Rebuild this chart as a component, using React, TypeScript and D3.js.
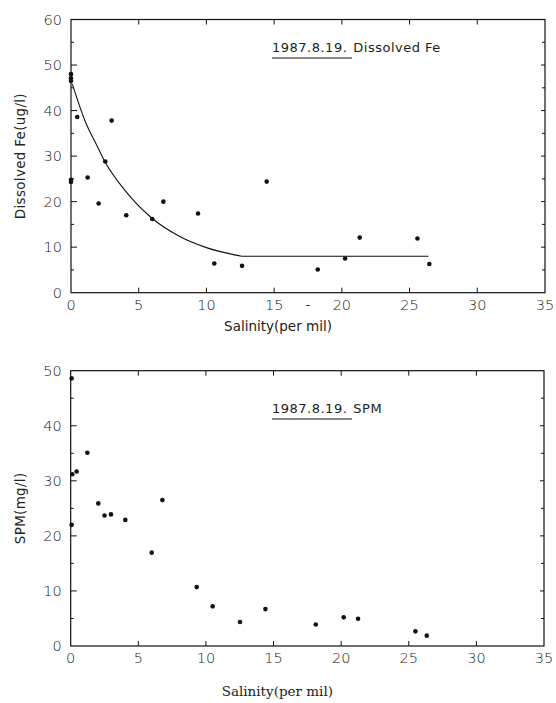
import React from 'react';
import * as d3 from 'd3';

// Dissolved Fe panel (1987.8.19)
const salinityFe = [0, 0, 0, 0, 0, 0.46, 1.23, 2.04, 2.53, 3.0, 4.08, 6.0, 6.82, 9.38, 10.58, 12.63, 14.45, 18.22, 20.24, 21.32, 25.58, 26.46];
const dissolvedFe = [48.0, 47.1, 46.5, 24.8, 24.3, 38.6, 25.3, 19.6, 28.8, 37.8, 17.0, 16.2, 20.0, 17.4, 6.4, 5.9, 24.4, 5.1, 7.5, 12.1, 11.9, 6.3];
// fitted curve (decay part) and flat part
const curveSal = [0.1, 1, 2, 2.5, 4, 6, 8, 10, 12.6];
const curveFe = [45.8, 38.0, 31.8, 28.8, 22.4, 16.3, 12.4, 9.9, 8.0];
const flatSal = [12.6, 26.4];
const flatFe = [8.0, 8.0];

// SPM panel
const salinitySpm = [0.07, 0.12, 0.44, 1.23, 0.07, 2.04, 2.5, 2.98, 4.04, 5.99, 6.78, 9.32, 10.5, 12.52, 14.4, 18.12, 20.19, 21.25, 25.49, 26.33];
const spm = [48.6, 31.2, 31.7, 35.1, 22.0, 25.9, 23.7, 23.9, 22.9, 16.95, 26.5, 10.7, 7.2, 4.36, 6.7, 3.9, 5.2, 4.96, 2.66, 1.88];

const xTicks = [0, 5, 10, 15, 20, 25, 30, 35];
const feTicks = [0, 10, 20, 30, 40, 50, 60];
const spmTicks = [0, 10, 20, 30, 40, 50];

const SANS = '"DejaVu Sans", sans-serif';
const SERIF = '"DejaVu Serif", serif';

type PanelProps = {
  left: number; right: number; top: number; bottom: number;
  yMax: number; yTicks: number[];
  xs: number[]; ys: number[];
  yTitle: string; xTitle: string; xTitleFont: string; xTitleY: number;
  annDate: string; annName: string; annX: number; annY: number;
  curve?: boolean; dash?: boolean;
};

function Panel(p: PanelProps) {
  const x = d3.scaleLinear().domain([0, 35]).range([p.left, p.right]);
  const y = d3.scaleLinear().domain([0, p.yMax]).range([p.bottom, p.top]);
  const minorY = d3.range(5, p.yMax, 10);
  const line = d3.line<[number, number]>().x(d => x(d[0])).y(d => y(d[1])).curve(d3.curveMonotoneX);
  const flat = d3.line<[number, number]>().x(d => x(d[0])).y(d => y(d[1]));
  const stroke = '#111';
  const txt = '#222';
  return (
    <g>
      <rect x={p.left} y={p.top} width={p.right - p.left} height={p.bottom - p.top} fill="none" stroke={stroke} strokeWidth={1.2} />
      {xTicks.slice(1, -1).map(t => (
        <g key={'xt' + t}>
          <line x1={x(t)} x2={x(t)} y1={p.bottom} y2={p.bottom - 5} stroke={stroke} strokeWidth={1} />
          <line x1={x(t)} x2={x(t)} y1={p.top} y2={p.top + 5} stroke={stroke} strokeWidth={1} />
        </g>
      ))}
      {p.yTicks.slice(1, -1).map(t => (
        <g key={'yt' + t}>
          <line x1={p.left} x2={p.left + 6} y1={y(t)} y2={y(t)} stroke={stroke} strokeWidth={1} />
          <line x1={p.right} x2={p.right - 4} y1={y(t)} y2={y(t)} stroke={stroke} strokeWidth={1} />
        </g>
      ))}
      {minorY.map(t => (
        <g key={'ym' + t}>
          <line x1={p.left} x2={p.left + 3} y1={y(t)} y2={y(t)} stroke={stroke} strokeWidth={1} />
          <line x1={p.right} x2={p.right - 3} y1={y(t)} y2={y(t)} stroke={stroke} strokeWidth={1} />
        </g>
      ))}
      {xTicks.map(t => (
        <text key={'xl' + t} x={x(t)} y={p.bottom + 17} textAnchor="middle" fontFamily={SANS} fontSize={14.5} fontWeight={300} fill={txt}>{t}</text>
      ))}
      {p.dash && (
        <text x={x(17.5)} y={p.bottom + 16} textAnchor="middle" fontFamily={SANS} fontSize={12} fill={txt}>-</text>
      )}
      {p.yTicks.map(t => (
        <text key={'yl' + t} x={p.left - 9} y={y(t) + 5} textAnchor="end" fontFamily={SANS} fontSize={14.5} fontWeight={300} fill={txt}>{t}</text>
      ))}
      <text x={p.left + (p.right - p.left) / 2 - 30} y={p.xTitleY} textAnchor="middle" fontFamily={p.xTitleFont} fontSize={13.5} fill={txt}>{p.xTitle}</text>
      <text transform={`translate(${25},${(p.top + p.bottom) / 2}) rotate(-90)`} textAnchor="middle" fontFamily={SANS} fontSize={13.5} letterSpacing={0.3} fill={txt}>{p.yTitle}</text>
      <text x={p.annX} y={p.annY} fontFamily={SANS} fontSize={13} letterSpacing={0.5} fill={txt}>
        {p.annDate}<tspan dx={6}>{p.annName}</tspan>
      </text>
      <line x1={p.annX} x2={p.annX + 80} y1={p.annY + 6} y2={p.annY + 6} stroke={stroke} strokeWidth={1} />
      {p.curve && (
        <>
          <path d={line(curveSal.map((s, i) => [s, curveFe[i]] as [number, number])) || ''} fill="none" stroke={stroke} strokeWidth={1.1} />
          <path d={flat(flatSal.map((s, i) => [s, flatFe[i]] as [number, number])) || ''} fill="none" stroke={stroke} strokeWidth={1.1} />
        </>
      )}
      {p.xs.map((s, i) => (
        <circle key={'pt' + i} cx={x(s)} cy={y(p.ys[i])} r={2.3} fill="#111" />
      ))}
    </g>
  );
}

export default function App() {
  return (
    <div style={{ position: 'absolute', left: 0, top: 0 }}>
      <svg width={556} height={703} viewBox="0 0 556 703" style={{ display: 'block', background: '#fff' }}>
        <rect width={556} height={703} fill="#fff" />
        <Panel left={71} right={545} top={19.5} bottom={292.7} yMax={60} yTicks={feTicks}
          xs={salinityFe} ys={dissolvedFe} yTitle="Dissolved Fe(ug/l)" xTitle="Salinity(per mil)"
          xTitleFont={SANS} xTitleY={331} annDate="1987.8.19." annName="Dissolved Fe" annX={272} annY={52}
          curve dash />
        <Panel left={70.7} right={544} top={370.7} bottom={646} yMax={50} yTicks={spmTicks}
          xs={salinitySpm} ys={spm} yTitle="SPM(mg/l)" xTitle="Salinity(per mil)"
          xTitleFont={SERIF} xTitleY={696} annDate="1987.8.19." annName="SPM" annX={272} annY={413} />
      </svg>
    </div>
  );
}
